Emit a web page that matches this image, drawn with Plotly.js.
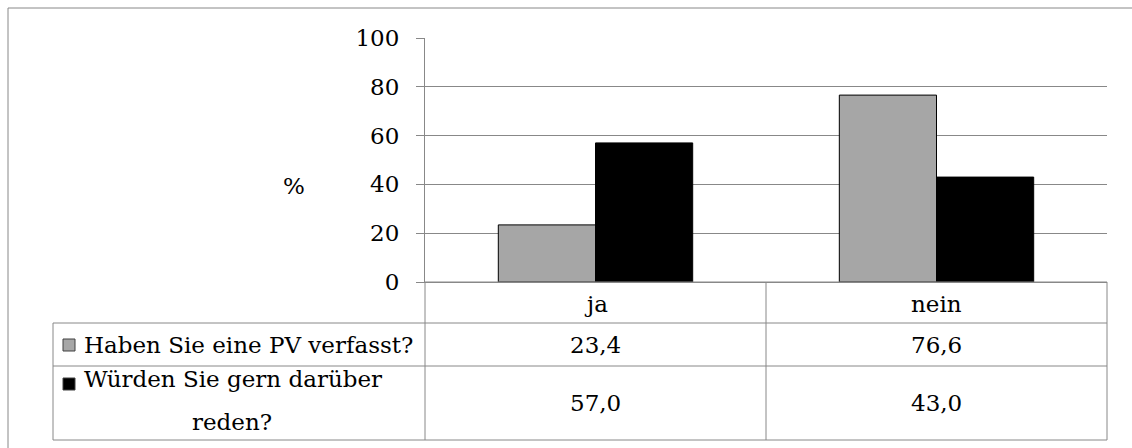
<!DOCTYPE html>
<html>
<head>
<meta charset="utf-8">
<script src="https://cdn.plot.ly/plotly-3.0.1.min.js"></script>
<style>
  html, body { margin: 0; padding: 0; background: #fff; }
  #chart { width: 1132px; height: 448px; }
</style>
</head>
<body>
<div id="chart"></div>
<script>
// Survey answers (percent)
const categories = ['ja', 'nein'];
const seriesNames = ['Haben Sie eine PV verfasst?', 'Würden Sie gern darüber reden?'];
const seriesLabelLines = [['Haben Sie eine PV verfasst?'], ['Würden Sie gern darüber', 'reden?']];
const verfasst = [23.4, 76.6];
const reden = [57.0, 43.0];
const yTicks = [0, 20, 40, 60, 80, 100];
const yUnit = '%';

const colors = ['#a6a6a6', '#000000'];
const values = [verfasst, reden];

const W = 1132, H = 448;
const M = { l: 425, r: 25, t: 38, b: 166 };
const plotW = W - M.l - M.r;
const plotH = H - M.t - M.b;
// pixel -> paper coordinate helpers for the data table below the plot
const px = x => (x - M.l) / plotW;
const py = y => (H - M.b - y) / plotH;

const FONT = 'DejaVu Serif';
const FS = 23;
const GRID = '#888888';
const fmt = v => v.toFixed(1).replace('.', ',');

const traces = values.map((vals, i) => ({
  type: 'bar',
  name: seriesNames[i],
  x: categories,
  y: vals,
  marker: { color: colors[i], line: { color: '#000', width: 1 } },
  hoverinfo: 'x+y'
}));

// table geometry (pixels)
const tblLeft = 53, tblTop = 282, row1 = 323, row2 = 366, tblBottom = 440, tblRight = 1107;

const line = (x0, y0, x1, y1) => ({
  type: 'line', xref: 'paper', yref: 'paper',
  x0: px(x0), y0: py(y0), x1: px(x1), y1: py(y1),
  line: { color: GRID, width: 1 }, layer: 'above'
});

const shapes = [
  // outer frame
  line(8, 8, 1132, 8),
  line(8, 8, 8, 448),
  // table grid
  line(M.l, tblTop, tblRight, tblTop),
  line(tblLeft, row1, tblRight, row1),
  line(tblLeft, row2, tblRight, row2),
  line(tblLeft, tblBottom, tblRight, tblBottom),
  line(tblLeft, row1, tblLeft, tblBottom),
  line(M.l, tblTop, M.l, tblBottom),
  line(tblRight, tblTop, tblRight, tblBottom)
];
// column dividers between categories
for (let i = 1; i < categories.length; i++) {
  const xPix = M.l + plotW * i / categories.length;
  shapes.push(line(xPix, tblTop, xPix, tblBottom));
}
// legend swatches in the row headers
const swatchY = [[339, 351], [378, 390]];
colors.forEach((c, i) => {
  shapes.push({
    type: 'rect', xref: 'paper', yref: 'paper',
    x0: px(63), x1: px(75), y0: py(swatchY[i][1]), y1: py(swatchY[i][0]),
    fillcolor: c, line: { color: '#404040', width: 1 }, layer: 'above'
  });
});

const txt = (text, x, y, xref, xanchor) => ({
  text, x, y, xref: xref || 'paper', yref: 'paper',
  xanchor: xanchor || 'center', yanchor: 'middle',
  showarrow: false, font: { family: FONT, size: FS, color: '#000' }
});

const annotations = [];
annotations.push(txt(yUnit, px(294), py(186)));
const rowCenters = [344.5, 403];
categories.forEach((c, j) => {
  annotations.push(txt(c, c, py(304), 'x'));
  values.forEach((vals, i) => {
    annotations.push(txt(fmt(vals[j]), c, py(rowCenters[i]), 'x'));
  });
});
// row headers
annotations.push(txt(seriesLabelLines[0][0], px(82), py(344.5), 'paper', 'left'));
annotations.push(txt(seriesLabelLines[1][0], px(82), py(379), 'paper', 'left'));
annotations.push(txt(seriesLabelLines[1][1], px(232), py(422), 'paper', 'center'));

const layout = {
  width: W, height: H,
  margin: M,
  paper_bgcolor: '#fff', plot_bgcolor: '#fff',
  showlegend: false,
  barmode: 'group',
  bargap: 0.43,
  bargroupgap: 0,
  font: { family: FONT, size: FS, color: '#000' },
  xaxis: {
    type: 'category',
    showticklabels: false,
    ticks: '',
    showgrid: false,
    showline: true, linecolor: GRID, linewidth: 1,
    zeroline: false,
    fixedrange: true
  },
  yaxis: {
    range: [0, 100],
    tickvals: yTicks,
    ticktext: yTicks.map(String),
    ticks: 'outside', ticklen: 8, tickcolor: GRID, tickwidth: 1,
    ticklabelstandoff: 12,
    showgrid: true, gridcolor: GRID, gridwidth: 1,
    showline: true, linecolor: GRID, linewidth: 1,
    zeroline: false,
    tickfont: { family: FONT, size: FS, color: '#000' },
    fixedrange: true
  },
  shapes, annotations
};

Plotly.newPlot('chart', traces, layout, { displayModeBar: false, staticPlot: true });
</script>
</body>
</html>
